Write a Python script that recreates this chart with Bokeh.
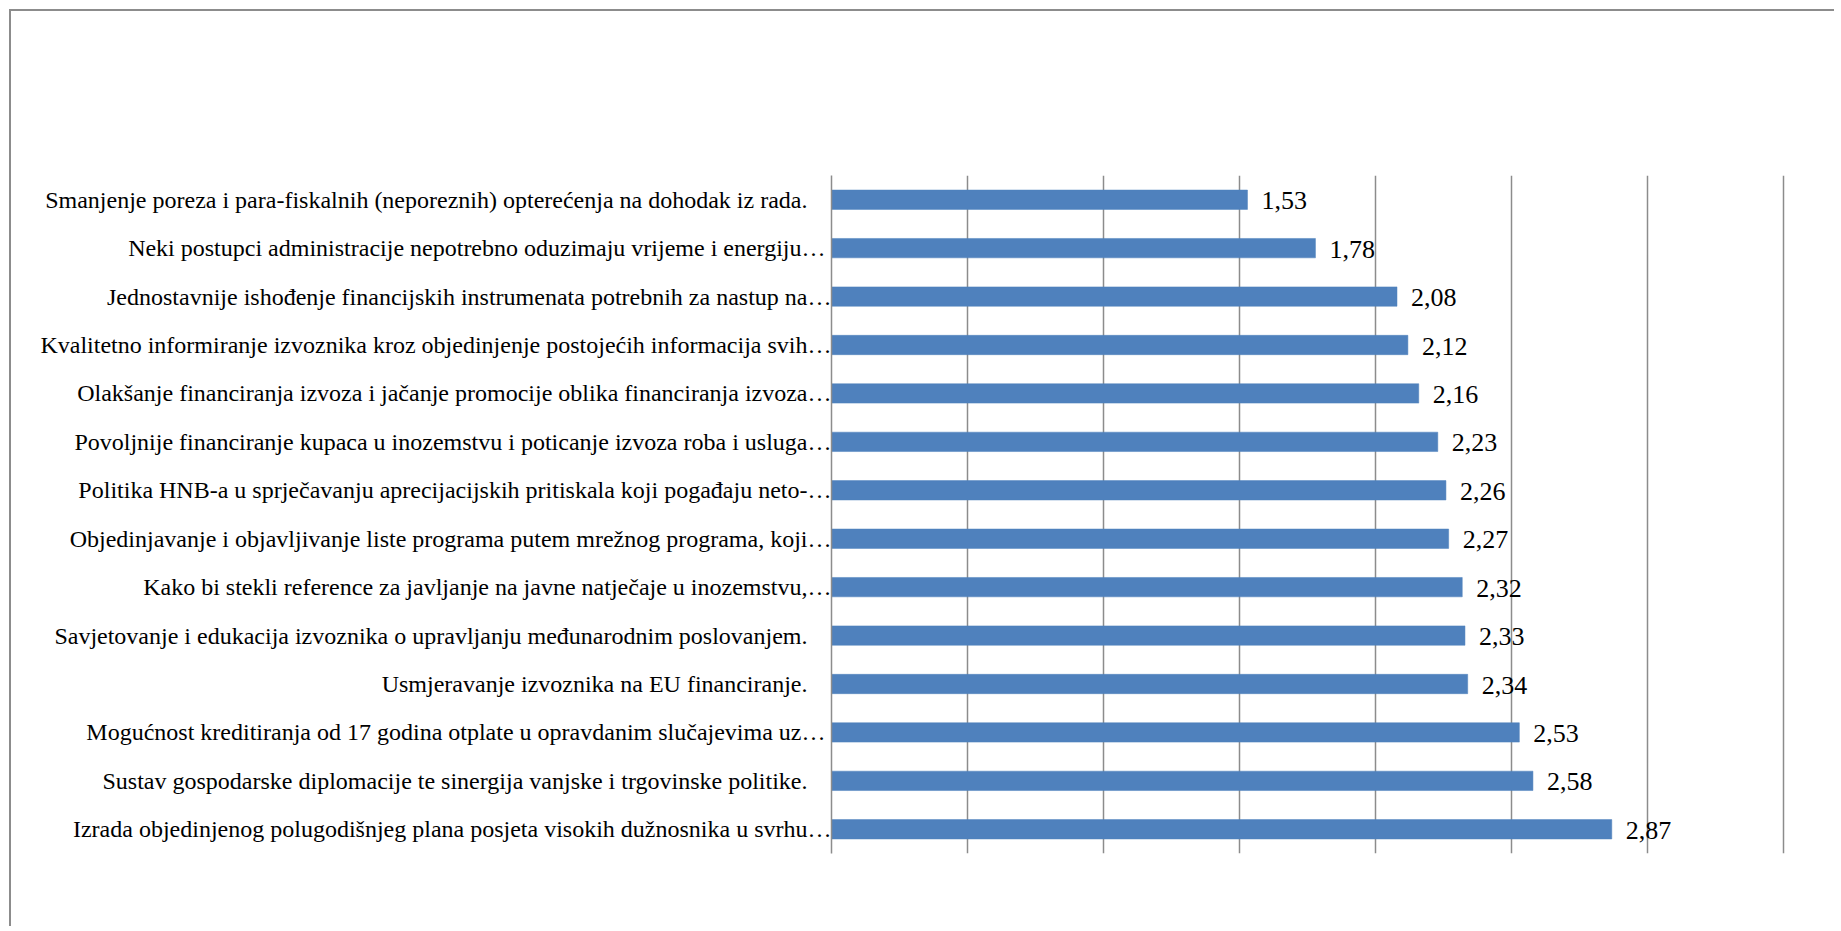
from bokeh.plotting import figure
from bokeh.models import FactorRange, Range1d, ColumnDataSource, LabelSet, SingleIntervalTicker
from bokeh.core.properties import value
from bokeh.embed import file_html
from bokeh.resources import INLINE

# ---- data (top to bottom as in the chart) ----
categories = [
    "Smanjenje poreza i para-fiskalnih (neporeznih) opterećenja na dohodak iz rada.",
    "Neki postupci administracije nepotrebno oduzimaju  vrijeme i energiju…",
    "Jednostavnije ishođenje financijskih instrumenata potrebnih za nastup na…",
    "Kvalitetno informiranje izvoznika kroz objedinjenje postojećih informacija svih…",
    "Olakšanje financiranja izvoza i jačanje promocije oblika financiranja izvoza…",
    "Povoljnije financiranje kupaca u inozemstvu i poticanje izvoza roba i usluga…",
    "Politika HNB-a u sprječavanju aprecijacijskih pritiskala koji pogađaju neto-…",
    "Objedinjavanje i objavljivanje liste programa putem mrežnog programa, koji…",
    "Kako bi stekli reference za javljanje na javne natječaje u inozemstvu,…",
    "Savjetovanje i edukacija izvoznika o upravljanju međunarodnim poslovanjem.",
    "Usmjeravanje izvoznika na EU financiranje.",
    "Mogućnost kreditiranja  od 17 godina otplate u opravdanim slučajevima uz…",
    "Sustav gospodarske diplomacije te sinergija vanjske i trgovinske politike.",
    "Izrada objedinjenog polugodišnjeg plana posjeta visokih dužnosnika u svrhu…",
]
values = [1.53, 1.78, 2.08, 2.12, 2.16, 2.23, 2.26, 2.27, 2.32, 2.33, 2.34, 2.53, 2.58, 2.87]
value_labels = ["1,53", "1,78", "2,08", "2,12", "2,16", "2,23", "2,26", "2,27",
                "2,32", "2,33", "2,34", "2,53", "2,58", "2,87"]
x_min, x_max, grid_step = 0, 3.5, 0.5

# ---- styling ----
FONT = "Liberation Serif"
BAR = "#4f81bd"
GRID = "#8c8c8c"
X_PAD = 0.02  # keeps the last gridline inside the frame

# full (non-truncated) labels carry trailing blanks in the original
shown = [c if c.endswith("…") else c + "\u00a0" * 4 for c in categories]

src = ColumnDataSource(dict(cat=shown, val=values, lab=value_labels))

p = figure(
    width=1825, height=917,
    y_range=FactorRange(factors=shown[::-1]),
    x_range=Range1d(x_min, x_max + X_PAD),
    output_backend="svg", toolbar_location=None,
    min_border_left=820, min_border_right=48,
    min_border_top=164, min_border_bottom=75,
)
p.title.visible = False
p.styles = {
    "border-left": "2px solid #8c8c8c",
    "border-top": "2px solid #8c8c8c",
    "margin-left": "9px",
    "margin-top": "9px",
}
p.outline_line_color = None
p.background_fill_color = "white"
p.border_fill_color = "white"

p.hbar(y="cat", left=0, right="val", height=0.4, source=src,
       fill_color=BAR, line_color=BAR, line_width=0.5)

labels = LabelSet(x="val", y="cat", text="lab", source=src,
                  x_offset=14, y_offset=-1,
                  text_font=value(FONT), text_font_size="26px",
                  text_color="black", text_baseline="middle", text_align="left")
p.add_layout(labels)

p.xaxis.visible = False
p.xgrid.ticker = SingleIntervalTicker(interval=grid_step, num_minor_ticks=0)
p.xgrid.grid_line_color = GRID
p.xgrid.grid_line_width = 1.5
p.ygrid.grid_line_color = None

ax = p.yaxis[0]
ax.axis_line_color = GRID
ax.axis_line_width = 1.5
ax.major_tick_line_color = None
ax.minor_tick_line_color = None
ax.major_tick_out = 0
ax.major_tick_in = 0
ax.major_label_standoff = 0
ax.major_label_text_font = FONT
ax.major_label_text_font_size = "24px"
ax.major_label_text_color = "black"

open("out.html", "w").write(file_html(p, INLINE))
